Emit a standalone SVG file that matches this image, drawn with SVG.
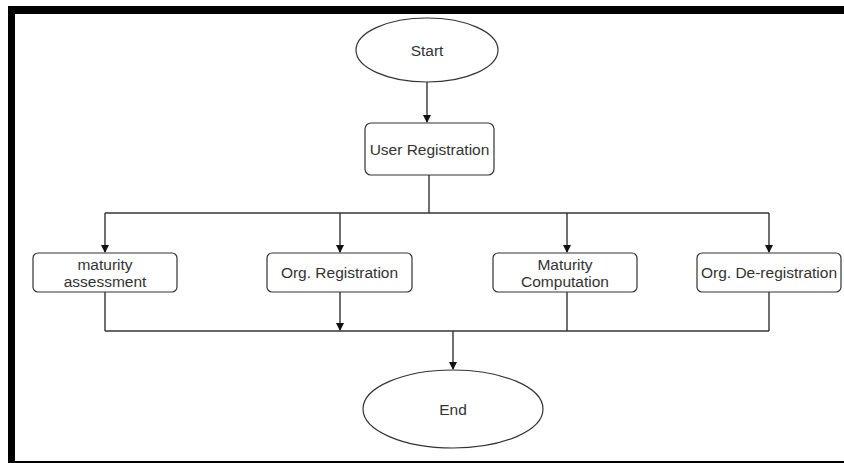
<svg xmlns="http://www.w3.org/2000/svg" width="844" height="463" viewBox="0 0 844 463">
<defs>
<marker id="ah" markerWidth="8" markerHeight="8" refX="7" refY="4" orient="auto" markerUnits="userSpaceOnUse">
<path d="M0,0 L8,4 L0,8 Z" fill="#111"/>
</marker>
<style>
.n{fill:#fff;stroke:#333;stroke-width:1.2}
.t{font-family:"Liberation Sans",Arial,sans-serif;font-size:15.5px;fill:#333;text-anchor:middle}
.c{fill:none;stroke:#333;stroke-width:1.4}
</style>
</defs>
<rect x="0" y="0" width="844" height="463" fill="#fff"/>
<g id="frame" fill="#000">
<rect x="8" y="6" width="836" height="8"/>
<rect x="8" y="6" width="7" height="457"/>
<rect x="8" y="461" width="836" height="2"/>
</g>
<g id="connectors">
<path class="c" d="M427,82 V122" marker-end="url(#ah)"/>
<path class="c" d="M429,175 V213"/>
<path class="c" d="M105,213 H769"/>
<path class="c" d="M105,213 V252" marker-end="url(#ah)"/>
<path class="c" d="M340,213 V252" marker-end="url(#ah)"/>
<path class="c" d="M567,213 V252" marker-end="url(#ah)"/>
<path class="c" d="M769,213 V252" marker-end="url(#ah)"/>
<path class="c" d="M105,292 V331"/>
<path class="c" d="M340,292 V330" marker-end="url(#ah)"/>
<path class="c" d="M567,292 V331"/>
<path class="c" d="M769,292 V331"/>
<path class="c" d="M105,331 H769"/>
<path class="c" d="M453,331 V369" marker-end="url(#ah)"/>
</g>
<g id="start">
<ellipse class="n" cx="427" cy="50" rx="71" ry="32"/>
<text class="t" x="427" y="56">Start</text>
</g>
<g id="user-registration">
<rect class="n" x="365" y="123" width="129" height="52" rx="6"/>
<text class="t" x="429.5" y="155">User Registration</text>
</g>
<g id="maturity-assessment">
<rect class="n" x="33" y="253" width="144" height="39" rx="5"/>
<text class="t" x="105" y="270">maturity</text>
<text class="t" x="105" y="287">assessment</text>
</g>
<g id="org-registration">
<rect class="n" x="267" y="253" width="145" height="39" rx="5"/>
<text class="t" x="339.5" y="278">Org. Registration</text>
</g>
<g id="maturity-computation">
<rect class="n" x="493" y="253" width="144" height="39" rx="5"/>
<text class="t" x="565" y="270">Maturity</text>
<text class="t" x="565" y="287">Computation</text>
</g>
<g id="org-deregistration">
<rect class="n" x="697" y="253" width="144" height="39" rx="5"/>
<text class="t" x="769" y="278">Org. De-registration</text>
</g>
<g id="end">
<ellipse class="n" cx="453" cy="409" rx="90" ry="39"/>
<text class="t" x="453" y="415">End</text>
</g>
</svg>
